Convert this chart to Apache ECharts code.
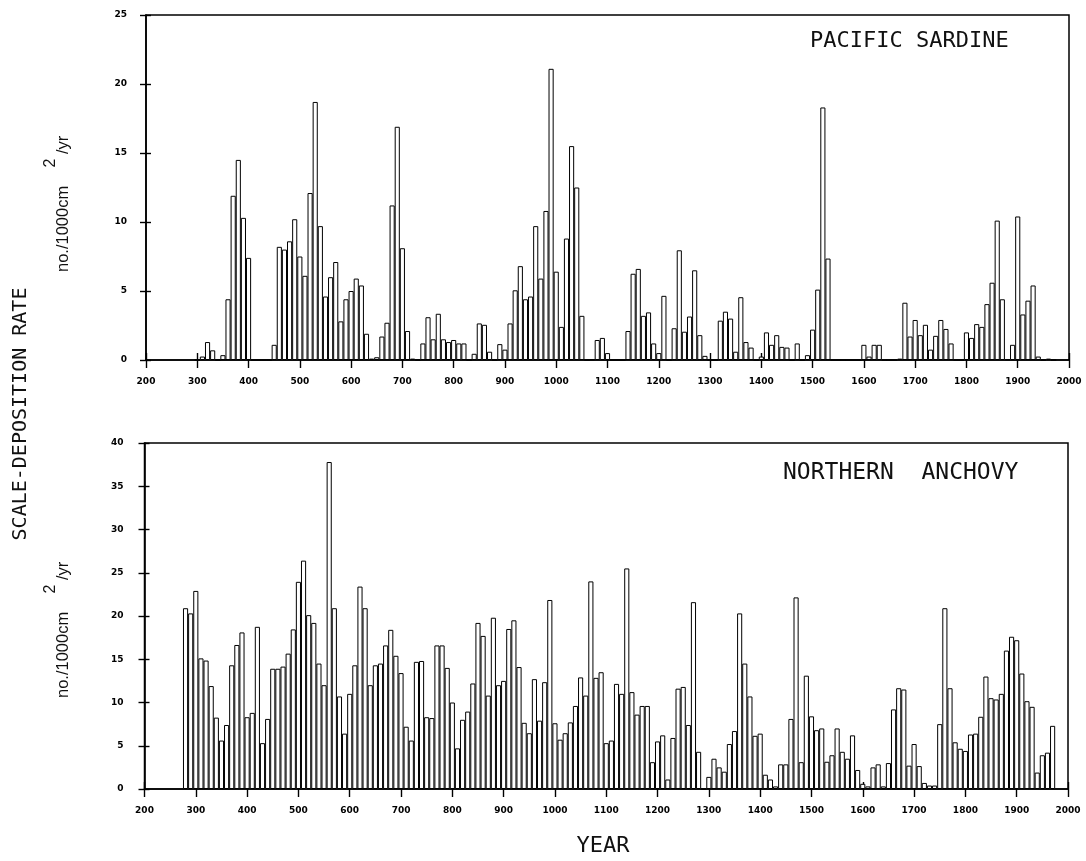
<!DOCTYPE html>
<html>
<head>
<meta charset="utf-8">
<script src="https://cdn.jsdelivr.net/npm/echarts@6/dist/echarts.min.js"></script>
<style>
html,body{margin:0;padding:0;background:#fff;}
#chart{width:1086px;height:861px;}
</style>
</head>
<body>
<div id="chart"></div>
<script>
// ---- Data (decade bins, value = scale-deposition rate, no./1000cm^2/yr) ----
var sardineYears = [300,310,320,330,340,350,360,370,380,390,400,410,420,430,440,450,460,470,480,490,
  500,510,520,530,540,550,560,570,580,590,600,610,620,630,640,650,660,670,680,690,
  700,710,720,730,740,750,760,770,780,790,800,810,820,830,840,850,860,870,880,890,
  900,910,920,930,940,950,960,970,980,990,1000,1010,1020,1030,1040,1050,1060,1070,1080,1090,
  1100,1110,1120,1130,1140,1150,1160,1170,1180,1190,1200,1210,1220,1230,1240,1250,1260,1270,1280,1290,
  1300,1310,1320,1330,1340,1350,1360,1370,1380,1390,1400,1410,1420,1430,1440,1450,1460,1470,1480,1490,
  1500,1510,1520,1530,1540,1550,1560,1570,1580,1590,1600,1610,1620,1630,1640,1650,1660,1670,1680,1690,
  1700,1710,1720,1730,1740,1750,1760,1770,1780,1790,1800,1810,1820,1830,1840,1850,1860,1870,1880,1890,
  1900,1910,1920,1930,1940,1950,1960,1970];
var sardineValues = [0,0.25,1.3,0.7,0,0.35,4.4,11.9,14.5,10.3,7.4,0,0,0,0,1.1,8.2,8.0,8.6,10.2,
  7.5,6.1,12.1,18.7,9.7,4.6,6.0,7.1,2.8,4.4,5.0,5.9,5.4,1.9,0.1,0.2,1.7,2.7,11.2,16.9,
  8.1,2.1,0.1,0,1.2,3.1,1.5,3.35,1.5,1.3,1.45,1.2,1.2,0,0.45,2.65,2.55,0.6,0,1.15,
  0.75,2.65,5.05,6.8,4.4,4.6,9.7,5.9,10.8,21.1,6.4,2.4,8.8,15.5,12.5,3.2,0,0.05,1.45,1.6,
  0.5,0,0,0,2.1,6.25,6.6,3.2,3.45,1.2,0.5,4.65,0,2.3,7.95,2.05,3.15,6.5,1.8,0.3,
  0,0,2.85,3.5,3.0,0.6,4.55,1.3,0.9,0,0.25,2.0,1.1,1.8,0.95,0.9,0,1.2,0,0.35,
  2.2,5.1,18.3,7.35,0,0,0,0,0,0,1.1,0.25,1.1,1.1,0,0,0,0.1,4.15,1.7,
  2.9,1.8,2.55,0.75,1.75,2.9,2.25,1.2,0,0,2.0,1.6,2.6,2.4,4.05,5.6,10.1,4.4,0.05,1.1,
  10.4,3.3,4.3,5.4,0.25,0,0.1,0];

var anchovyYears = [280,290,300,310,320,330,340,350,360,370,380,390,400,410,420,430,440,450,460,470,
  480,490,500,510,520,530,540,550,560,570,580,590,600,610,620,630,640,650,660,670,
  680,690,700,710,720,730,740,750,760,770,780,790,800,810,820,830,840,850,860,870,
  880,890,900,910,920,930,940,950,960,970,980,990,1000,1010,1020,1030,1040,1050,1060,1070,
  1080,1090,1100,1110,1120,1130,1140,1150,1160,1170,1180,1190,1200,1210,1220,1230,1240,1250,1260,1270,
  1280,1290,1300,1310,1320,1330,1340,1350,1360,1370,1380,1390,1400,1410,1420,1430,1440,1450,1460,1470,
  1480,1490,1500,1510,1520,1530,1540,1550,1560,1570,1580,1590,1600,1610,1620,1630,1640,1650,1660,1670,
  1680,1690,1700,1710,1720,1730,1740,1750,1760,1770,1780,1790,1800,1810,1820,1830,1840,1850,1860,1870,
  1880,1890,1900,1910,1920,1930,1940,1950,1960,1970];
var anchovyValues = [20.9,20.3,22.9,15.1,14.85,11.9,8.25,5.6,7.4,14.3,16.65,18.1,8.3,8.8,18.75,5.3,8.1,13.9,13.9,14.15,
  15.65,18.45,23.95,26.4,20.1,19.2,14.5,12.0,37.8,20.9,10.7,6.4,11.0,14.3,23.4,20.9,12.0,14.3,14.5,16.6,
  18.4,15.4,13.4,7.2,5.6,14.7,14.8,8.3,8.2,16.6,16.6,14.0,10.0,4.7,8.0,8.95,12.2,19.2,17.7,10.8,
  19.8,12.0,12.5,18.5,19.5,14.1,7.65,6.45,12.7,7.9,12.35,21.85,7.6,5.7,6.45,7.7,9.6,12.9,10.8,24.0,
  12.85,13.5,5.3,5.6,12.15,11.0,25.5,11.2,8.6,9.6,9.6,3.1,5.5,6.2,1.1,5.9,11.6,11.8,7.4,21.6,
  4.3,0,1.4,3.5,2.5,2.0,5.2,6.7,20.3,14.5,10.7,6.15,6.4,1.65,1.1,0.3,2.85,2.85,8.1,22.15,
  3.1,13.1,8.4,6.8,7.0,3.15,3.9,7.0,4.3,3.5,6.2,2.2,0.6,0.3,2.5,2.85,0.3,3.0,9.2,11.65,
  11.5,2.7,5.2,2.65,0.7,0.4,0.4,7.5,20.9,11.65,5.4,4.65,4.4,6.3,6.4,8.35,13.0,10.5,10.35,11.0,
  16.0,17.6,17.2,13.35,10.15,9.5,1.9,3.9,4.2,7.3];

var xMin = 200, xMax = 2000, xStep = 100;
var sardineYMax = 25, anchovyYMax = 40, yStep = 5;
var panelTitles = ['PACIFIC SARDINE', 'NORTHERN  ANCHOVY'];
var unitMain = 'no./1000cm', unitSup = '2', unitTail = '/yr';
var yTitle = 'SCALE-DEPOSITION RATE';
var xTitle = 'YEAR';

// ---- Layout ----
var grids = [
  {left: 146, top: 15, width: 923, height: 345},
  {left: 144.5, top: 443, width: 923.5, height: 346}
];
var binYears = 10;

function pair(xs, ys) {
  var out = [];
  for (var i = 0; i < xs.length; i++) out.push([xs[i], ys[i]]);
  return out;
}

var labelFont = {fontFamily: 'DejaVu Sans', fontWeight: 'bold', fontSize: 9, color: '#000',
  formatter: function (v) { return String(v); }};

function xAxes(gi) {
  return [
    {gridIndex: gi, type: 'value', min: xMin, max: xMax, interval: xStep, position: 'bottom',
     axisLine: {show: true, lineStyle: {color: '#000', width: 1.6}},
     axisTick: {show: true, inside: false, length: 8, lineStyle: {color: '#000', width: 1.4}},
     axisLabel: Object.assign({margin: 17}, labelFont),
     splitLine: {show: false}},
    {gridIndex: gi, type: 'value', min: xMin, max: xMax, interval: xStep, position: 'bottom',
     axisLine: {show: false},
     axisTick: {show: true, inside: true, length: 7, lineStyle: {color: '#000', width: 1.4}},
     axisLabel: {show: false}, splitLine: {show: false}}
  ];
}
function yAxes(gi, ymax, margin) {
  return [
    {gridIndex: gi, type: 'value', min: 0, max: ymax, interval: yStep, position: 'left',
     axisLine: {show: true, lineStyle: {color: '#000', width: 1.6}},
     axisTick: {show: true, inside: false, length: 6, lineStyle: {color: '#000', width: 1.4}},
     axisLabel: Object.assign({margin: margin}, labelFont),
     splitLine: {show: false}},
    {gridIndex: gi, type: 'value', min: 0, max: ymax, interval: yStep, position: 'left',
     axisLine: {show: false},
     axisTick: {show: true, inside: true, length: 5, lineStyle: {color: '#000', width: 1.4}},
     axisLabel: {show: false}, splitLine: {show: false}}
  ];
}

function barSeries(xi, yi, data, gridW) {
  return {
    type: 'bar', xAxisIndex: xi, yAxisIndex: yi, data: data,
    barWidth: gridW * binYears / (xMax - xMin),
    itemStyle: {color: '#fff', borderColor: '#000', borderWidth: 1},
    emphasis: {disabled: true},
    animation: false
  };
}

var titleStyle = {fontFamily: 'DejaVu Sans Mono', fill: '#111'};
function rotText(x, y, text, size, family, align) {
  return {type: 'text', x: x, y: y, rotation: Math.PI / 2,
    style: {text: text, fontSize: size, fontFamily: family, fill: '#111',
      textAlign: align || 'center', textVerticalAlign: 'middle'}};
}

var option = {
  backgroundColor: '#fff',
  animation: false,
  grid: grids.map(function (g) {
    return Object.assign({show: true, borderColor: '#000', borderWidth: 1.5, backgroundColor: 'transparent'}, g);
  }),
  xAxis: xAxes(0).concat(xAxes(1)),
  yAxis: yAxes(0, sardineYMax, 19).concat(yAxes(1, anchovyYMax, 21)),
  series: [
    barSeries(0, 0, pair(sardineYears, sardineValues), grids[0].width),
    barSeries(2, 2, pair(anchovyYears, anchovyValues), grids[1].width)
  ],
  graphic: [
    {type: 'text', x: 810, y: 41, style: Object.assign({text: panelTitles[0], fontSize: 22, textAlign: 'left', textVerticalAlign: 'middle'}, titleStyle)},
    {type: 'text', x: 783, y: 473, style: Object.assign({text: panelTitles[1], fontSize: 23, textAlign: 'left', textVerticalAlign: 'middle'}, titleStyle)},
    {type: 'text', x: 603, y: 846, style: Object.assign({text: xTitle, fontSize: 22, textAlign: 'center', textVerticalAlign: 'middle'}, titleStyle)},
    rotText(21, 414, yTitle, 20, 'DejaVu Sans Mono', 'center'),
    // unit labels (top panel)
    rotText(63.5, 272, unitMain, 16.5, 'Liberation Sans', 'left'),
    rotText(51, 163, unitSup, 16, 'Liberation Sans', 'center'),
    rotText(63.5, 154, unitTail, 16.5, 'Liberation Sans', 'left'),
    // unit labels (bottom panel)
    rotText(63.5, 698, unitMain, 16.5, 'Liberation Sans', 'left'),
    rotText(51, 589, unitSup, 16, 'Liberation Sans', 'center'),
    rotText(63.5, 580, unitTail, 16.5, 'Liberation Sans', 'left')
  ]
};

var chart = echarts.init(document.getElementById('chart'), null, {renderer: 'canvas'});
chart.setOption(option);
</script>
</body>
</html>
